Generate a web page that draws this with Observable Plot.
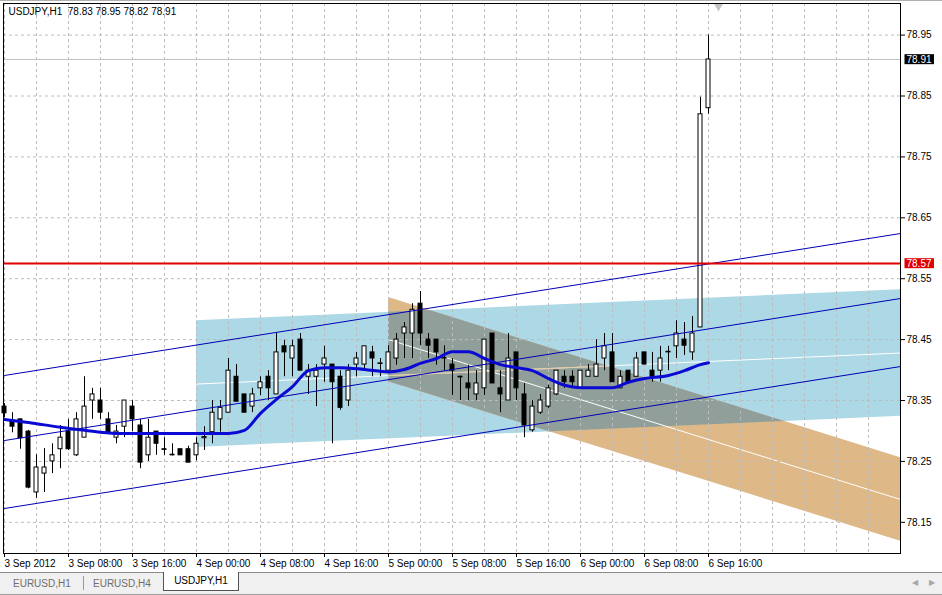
<!DOCTYPE html>
<html><head><meta charset="utf-8">
<script src="https://cdn.jsdelivr.net/npm/d3@7"></script>
<script src="https://cdn.jsdelivr.net/npm/@observablehq/plot@0.6"></script>
<style>
html,body{margin:0;padding:0;background:#fff;}
body{width:942px;height:595px;overflow:hidden;font-family:"Liberation Sans",Arial,sans-serif;}
#chart{position:relative;height:572px;}
#chart svg{display:block;}
#tabs{position:relative;height:23px;background:#f0f0f0;border-top:1px solid #8a8a8a;border-bottom:1px solid #a0a0a0;box-sizing:border-box;font-size:10px;}
#tabs .t{position:absolute;top:5px;color:#6e6e6e;white-space:nowrap;}
#tabs .sep{position:absolute;top:3px;width:1px;height:14px;background:#9a9a9a;}
#tabs .act{left:163px;top:-1px;width:76px;height:19px;background:#fff;border:1px solid #555;border-top:none;color:#000;text-align:center;line-height:18px;box-sizing:border-box;}
#tabs .arr{position:absolute;top:5px;font-size:8px;color:#a8a8a8;}
#topline{position:absolute;left:0;top:0;width:942px;height:1px;background:#b0b0b0;}
</style></head><body>
<div id="chart"><div id="topline"></div></div>
<div id="tabs">
  <div class="t" style="left:13px">EURUSD,H1</div>
  <div class="sep" style="left:83px"></div>
  <div class="t" style="left:93px">EURUSD,H4</div>
  <div class="t act">USDJPY,H1</div>
  <div class="arr" style="left:912px">&#9664;</div><div class="arr" style="left:929px">&#9654;</div>
</div>
<script>
// ---- data (USDJPY H1, bars from 3 Sep 2012 00:00) ----
const symbolLabel = "USDJPY,H1";
const tickBars = [0, 8, 16, 24, 32, 40, 48, 56, 64, 72, 80, 88];
const tickLabels = ["3 Sep 2012", "3 Sep 08:00", "3 Sep 16:00", "4 Sep 00:00", "4 Sep 08:00", "4 Sep 16:00",
  "5 Sep 00:00", "5 Sep 08:00", "5 Sep 16:00", "6 Sep 00:00", "6 Sep 08:00", "6 Sep 16:00"];
const priceTicks = [78.15, 78.25, 78.35, 78.45, 78.55, 78.65, 78.75, 78.85, 78.95];

const open = [78.340,78.317,78.319,78.299,78.199,78.230,78.250,78.270,78.299,78.260,
  78.289,78.350,78.350,78.319,78.289,78.307,78.340,78.309,78.260,78.299,
  78.270,78.261,78.270,78.270,78.260,78.288,78.298,78.319,78.330,78.389,
  78.360,78.340,78.370,78.389,78.360,78.439,78.419,78.450,78.389,78.389,
  78.409,78.409,78.389,78.350,78.409,78.409,78.429,78.410,78.399,78.419,
  78.460,78.460,78.509,78.450,78.450,78.420,78.409,78.389,78.378,78.360,
  78.370,78.460,78.370,78.350,78.429,78.360,78.301,78.330,78.340,78.360,
  78.389,78.389,78.370,78.389,78.389,78.419,78.429,78.370,78.399,78.389,
  78.429,78.399,78.399,78.429,78.439,78.450,78.429,78.470,78.830];
const high = [78.345,78.330,78.320,78.301,78.261,78.271,78.279,78.309,78.319,78.330,
  78.389,78.370,78.370,78.330,78.309,78.350,78.350,78.319,78.319,78.299,
  78.289,78.279,78.270,78.275,78.289,78.307,78.350,78.350,78.419,78.409,
  78.360,78.370,78.389,78.399,78.460,78.449,78.449,78.460,78.409,78.409,
  78.439,78.409,78.399,78.409,78.429,78.439,78.439,78.419,78.440,78.460,
  78.478,78.509,78.529,78.460,78.450,78.440,78.419,78.390,78.408,78.399,
  78.450,78.460,78.399,78.460,78.429,78.378,78.350,78.360,78.375,78.399,
  78.399,78.399,78.399,78.409,78.450,78.460,78.460,78.399,78.399,78.429,
  78.429,78.429,78.439,78.439,78.481,78.478,78.488,78.848,78.950];
const low = [78.322,78.297,78.270,78.205,78.189,78.199,78.230,78.238,78.268,78.258,
  78.289,78.319,78.319,78.296,78.279,78.289,78.299,78.238,78.250,78.260,
  78.260,78.259,78.260,78.248,78.251,78.268,78.279,78.298,78.330,78.348,
  78.330,78.330,78.358,78.350,78.360,78.389,78.389,78.399,78.360,78.340,
  78.380,78.279,78.334,78.340,78.389,78.399,78.389,78.389,78.399,78.408,
  78.419,78.419,78.440,78.419,78.408,78.399,78.358,78.350,78.350,78.350,
  78.358,78.378,78.330,78.350,78.350,78.289,78.298,78.327,78.337,78.358,
  78.370,78.370,78.370,78.389,78.389,78.399,78.380,78.370,78.380,78.389,
  78.409,78.380,78.380,78.399,78.419,78.424,78.416,78.470,78.820];
const close = [78.329,78.307,78.288,78.207,78.240,78.240,78.260,78.289,78.270,78.319,
  78.340,78.360,78.330,78.298,78.299,78.350,78.319,78.248,78.289,78.279,
  78.269,78.260,78.260,78.248,78.279,78.290,78.330,78.338,78.399,78.348,
  78.330,78.360,78.380,78.370,78.429,78.429,78.439,78.399,78.399,78.399,
  78.419,78.380,78.338,78.399,78.419,78.439,78.419,78.411,78.429,78.450,
  78.470,78.499,78.460,78.440,78.429,78.419,78.399,78.388,78.370,78.378,
  78.450,78.378,78.360,78.419,78.370,78.309,78.340,78.350,78.370,78.399,
  78.380,78.380,78.399,78.399,78.409,78.439,78.380,78.389,78.380,78.419,
  78.409,78.389,78.419,78.430,78.460,78.440,78.460,78.820,78.910];

// moving average (read at selected bars)
const maBars = [0,3,7,10,14,24,28,30,32,34,36,38,40,42,45,48,50,52,54,56,58,60,62,64,66,68,70,72,76,78,80,83,85,87,88];
const maValues = [78.319,78.314,78.306,78.301,78.296,78.296,78.296,78.301,78.329,78.352,78.373,78.399,78.404,78.404,78.401,
  78.397,78.401,78.411,78.419,78.430,78.430,78.419,78.409,78.404,78.399,78.386,78.375,78.371,78.371,78.380,
  78.386,78.391,78.399,78.409,78.412];

// regression channel lines (thin blue)
const regBars = [0, 112];
const regUpper = [78.3911, 78.6242];
const regMiddle = [78.2843, 78.5175];
const regLower = [78.1727, 78.4058];

// light-blue channel
const cyanBars = [24, 112];
const cyanTop = [78.481, 78.532];
const cyanBottom = [78.273, 78.324];
// tan channel
const tanBars = [48, 112];
const tanTop = [78.519, 78.256];
const tanBottom = [78.381, 78.119];

const redLevel = 78.575, redLabel = "78.57";
const lastBar = open.length - 1;
const shiftMarkerBar = 89.25;

// ---- build ----
const candles = open.map((o, i) => ({i, o, h: high[i], l: low[i], c: close[i]}));
const mid = (a, b) => a.map((v, k) => (v + b[k]) / 2);
const cyanData = cyanBars.map((b, k) => ({b, top: cyanTop[k], bot: cyanBottom[k], mid: (cyanTop[k] + cyanBottom[k]) / 2}));
const tanData = tanBars.map((b, k) => ({b, top: tanTop[k], bot: tanBottom[k], mid: (tanTop[k] + tanBottom[k]) / 2}));
const lin = (bars, vals) => d3.scaleLinear().domain(bars).range(vals);
const cT = lin(cyanBars, cyanTop), cB = lin(cyanBars, cyanBottom), cM = lin(cyanBars, mid(cyanTop, cyanBottom));
const tT = lin(tanBars, tanTop), tB = lin(tanBars, tanBottom);
const samples = d3.range(tanBars[0], tanBars[1] + 1e-9, 0.05);
const overlap = samples.map(x => ({x, lo: Math.max(cB(x), tB(x)), hi: Math.min(cT(x), tT(x))})).filter(d => d.hi > d.lo);
const cyanMidInTan = samples.map(x => ({x, v: cM(x)})).filter(d => d.v <= tT(d.x) && d.v >= tB(d.x));
const regData = regBars.map((b, k) => ({b, u: regUpper[k], m: regMiddle[k], l: regLower[k]}));
const maData = maBars.map((b, k) => ({b, v: maValues[k]}));
const gridBars = d3.range(0, 112, 4);
const fmt = d3.format(".2f");
const title = symbolLabel + "\u00a0\u00a0" + [open[lastBar], high[lastBar], low[lastBar], close[lastBar]].map(fmt).join(" ");
const priceBoxes = [{v: close[lastBar], label: fmt(close[lastBar]), bg: "#000000"}, {v: redLevel, label: redLabel, bg: "#e00000"}];

const gridStyle = {stroke: "#bcbcbc", strokeDasharray: "3,3", strokeWidth: 1};

const chart = Plot.plot({
  width: 942, height: 572,
  marginLeft: 3, marginRight: 42, marginTop: 3, marginBottom: 19,
  style: {fontFamily: "'Liberation Sans', Arial, sans-serif", fontSize: "10px", color: "#000", background: "transparent", overflow: "visible"},
  x: {domain: [-0.125, 112], ticks: tickBars, tickFormat: d => tickLabels[tickBars.indexOf(d)], tickSize: 4, tickPadding: 2, label: null},
  y: {domain: [78.0988, 79.0019], axis: "right", ticks: priceTicks, tickFormat: fmt, tickSize: 4, tickPadding: 2, label: null},
  marks: [
    Plot.areaY(cyanData, {x: "b", y1: "bot", y2: "top", fill: "#add8e6"}),
    Plot.areaY(tanData, {x: "b", y1: "bot", y2: "top", fill: "#deb887"}),
    Plot.areaY(overlap, {x: "x", y1: "lo", y2: "hi", fill: "#919f9b"}),
    Plot.line(cyanData, {x: "b", y: "mid", stroke: "white", strokeWidth: 1}),
    Plot.line(cyanMidInTan, {x: "x", y: "v", stroke: "#deb887", strokeWidth: 1}),
    Plot.line(tanData, {x: "b", y: "mid", stroke: "white", strokeWidth: 1}),
    Plot.ruleY(priceTicks, gridStyle),
    Plot.ruleX(gridBars, gridStyle),
    Plot.ruleY([close[lastBar]], {stroke: "#c0c0c0", strokeWidth: 1}),
    Plot.ruleX(candles, {x: "i", y1: "l", y2: "h", stroke: "black", strokeWidth: 1}),
    Plot.rect(candles.filter(d => d.c >= d.o), {x1: d => d.i - 0.25, x2: d => d.i + 0.25, y1: "o", y2: "c", fill: "white", stroke: "black", strokeWidth: 1}),
    Plot.rect(candles.filter(d => d.c < d.o), {x1: d => d.i - 0.25, x2: d => d.i + 0.25, y1: "o", y2: "c", fill: "black", stroke: "black", strokeWidth: 1}),
    Plot.line(maData, {x: "b", y: "v", stroke: "#0a0ad2", strokeWidth: 3, curve: "monotone-x"}),
    Plot.line(regData, {x: "b", y: "u", stroke: "#0000b4", strokeWidth: 1}),
    Plot.line(regData, {x: "b", y: "m", stroke: "#0000b4", strokeWidth: 1}),
    Plot.line(regData, {x: "b", y: "l", stroke: "#0000b4", strokeWidth: 1}),
    Plot.ruleY([redLevel], {stroke: "#e00000", strokeWidth: 2}),
    Plot.frame({stroke: "black"}),
    Plot.text([title], {frameAnchor: "top-left", dx: 5, dy: 4, lineAnchor: "top", textAnchor: "start", fill: "black"}),
    Plot.dot([shiftMarkerBar], {x: d => d, frameAnchor: "top", dy: 3, symbol: "triangle", rotate: 180, r: 3.2, fill: "#c4c4c4", stroke: "none"}),
    Plot.text(priceBoxes, {y: "v", text: "label", frameAnchor: "right", dx: 6, textAnchor: "start", fill: "#ffffff"})
  ]
});
document.getElementById("chart").appendChild(chart);

// x-axis labels start at their tick
chart.querySelectorAll('g[aria-label^="x-axis"]').forEach(g => {
  if (g.getAttribute("text-anchor")) g.setAttribute("text-anchor", "start");
  g.querySelectorAll("text").forEach(t => t.setAttribute("text-anchor", "start"));
});
// coloured backgrounds behind the price labels on the right
const boxColor = new Map(priceBoxes.map(d => [d.label, d.bg]));
chart.querySelectorAll("text").forEach(t => {
  const g = t.parentNode;
  const fillAttr = (t.getAttribute("fill") || (g && g.getAttribute && g.getAttribute("fill")) || "").toLowerCase();
  if (!boxColor.has(t.textContent) || !(fillAttr === "#ffffff" || fillAttr === "white")) return;
  const bb = t.getBBox();
  const r = document.createElementNS("http://www.w3.org/2000/svg", "rect");
  r.setAttribute("x", bb.x - 2); r.setAttribute("y", bb.y + 0.5);
  r.setAttribute("width", bb.width + 4); r.setAttribute("height", bb.height - 1);
  r.setAttribute("fill", boxColor.get(t.textContent));
  if (t.getAttribute("transform")) r.setAttribute("transform", t.getAttribute("transform"));
  g.insertBefore(r, t);
});
</script>
</body></html>
